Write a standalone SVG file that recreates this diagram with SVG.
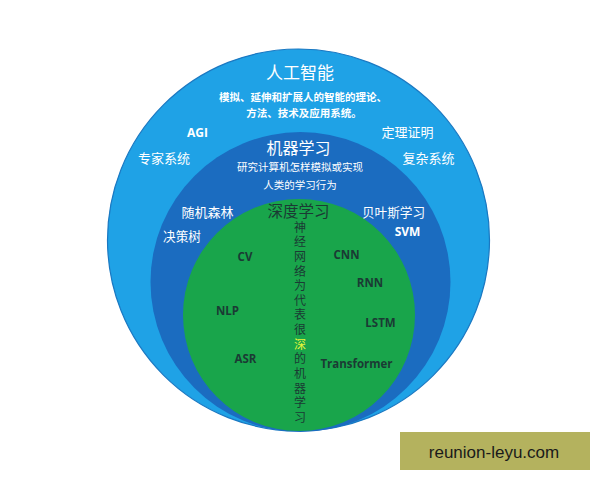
<svg xmlns="http://www.w3.org/2000/svg" width="600" height="480" viewBox="0 0 600 480">
<style>
.cjk{font-family:"Noto Sans CJK SC","Noto Sans",sans-serif;text-anchor:middle}
.lat{font-family:"Open Sans","Liberation Sans",sans-serif;font-weight:bold;text-anchor:middle}
.w{fill:#ffffff}
.d{fill:#1b3a34}
</style>
<rect width="600" height="480" fill="#ffffff"/>
<g id="ai">
<circle cx="298.5" cy="240" r="191" fill="#1fa2e6" stroke="#1a78c2" stroke-width="1.2"/>
<text class="cjk w" x="300" y="79" font-size="17">人工智能</text>
<text class="cjk w" x="303" y="101" font-size="10.5" font-weight="bold">模拟、延伸和扩展人的智能的理论、</text>
<text class="cjk w" x="304" y="117" font-size="10.5" font-weight="bold">方法、技术及应用系统。</text>
<text class="lat w" x="197.5" y="137" font-size="12">AGI</text>
<text class="cjk w" x="407.5" y="137" font-size="13">定理证明</text>
<text class="cjk w" x="164" y="163" font-size="13">专家系统</text>
<text class="cjk w" x="428.5" y="163" font-size="13">复杂系统</text>
</g>
<g id="ml">
<circle cx="300.5" cy="282" r="150" fill="#1b6cc0"/>
<text class="cjk w" x="298.5" y="154" font-size="16">机器学习</text>
<text class="cjk w" x="300" y="171" font-size="10.5">研究计算机怎样模拟或实现</text>
<text class="cjk w" x="300" y="189" font-size="10.5">人类的学习行为</text>
<text class="cjk w" x="207.5" y="217" font-size="13">随机森林</text>
<text class="cjk w" x="393.5" y="217" font-size="12.6">贝叶斯学习</text>
<text class="cjk w" x="182" y="241" font-size="12.6">决策树</text>
<text class="lat w" x="407.5" y="236" font-size="12">SVM</text>
</g>
<g id="dl">
<circle cx="299" cy="315" r="116" fill="#19a54b"/>
<text class="cjk d" x="298.5" y="216.5" font-size="15.5">深度学习</text>
<text class="lat d" x="245" y="261" font-size="11.5">CV</text>
<text class="lat d" x="346.5" y="259" font-size="11.5">CNN</text>
<text class="lat d" x="370" y="287" font-size="11.5">RNN</text>
<text class="lat d" x="227.5" y="315" font-size="11.5">NLP</text>
<text class="lat d" x="380.5" y="327" font-size="11.5">LSTM</text>
<text class="lat d" x="245.5" y="363" font-size="11.5">ASR</text>
<text class="lat d" x="356.5" y="368" font-size="11.5">Transformer</text>
<text x="300" y="221" font-family="Noto Sans CJK SC, sans-serif" font-size="12" fill="#1b3a34" writing-mode="vertical-rl" text-anchor="start" style="letter-spacing:2.65px">神经网络为代表很<tspan fill="#e6f53a">深</tspan>的机器学习</text>
</g>
<g id="watermark">
<rect x="400" y="432" width="190" height="38" fill="#b4b25e"/>
<text x="494" y="458" font-family="Liberation Sans, sans-serif" font-size="17" fill="#1a1a1a" text-anchor="middle">reunion-leyu.com</text>
</g>
</svg>
